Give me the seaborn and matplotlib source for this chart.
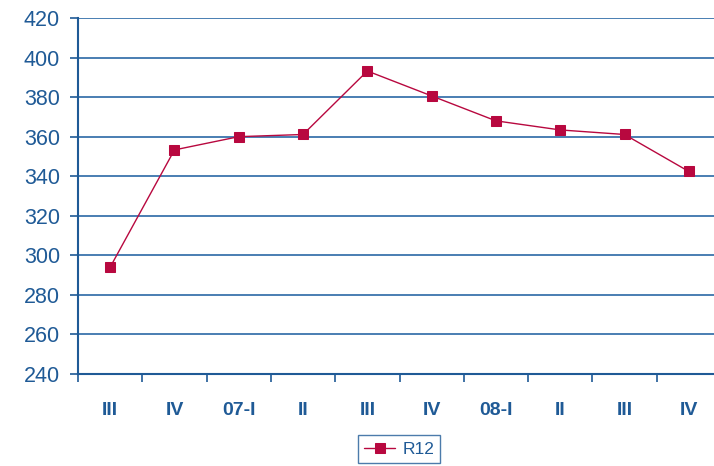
import matplotlib
matplotlib.use("Agg")
import matplotlib.pyplot as plt
import seaborn as sns
import pandas as pd
import numpy as np

categories = ["III", "IV", "07-I", "II", "III", "IV", "08-I", "II", "III", "IV"]
r12 = [294, 353.3, 360, 361.1, 393.2, 380.6, 368, 363.4, 361.1, 342.4]
yticks = [240, 260, 280, 300, 320, 340, 360, 380, 400, 420]

sns.set_theme(style="white")
plt.rcParams['font.family'] = ['Liberation Sans', 'DejaVu Sans']

blue = "#1F5A96"
red = "#B8083F"

df = pd.DataFrame({"pos": np.arange(len(categories)), "R12": r12})

fig = plt.figure(figsize=(7.14, 4.66), dpi=100)
ax = fig.add_axes([78/714, 1-374/466, 643/714, 356/466])
ax.set_ylim(240, 420)
ax.set_xlim(-0.5, len(categories) - 0.5)
for y in yticks[1:]:
    ax.axhline(y, color="#3A74AC", lw=1.3, zorder=1)

sns.lineplot(data=df, x="pos", y="R12", ax=ax, color=red, lw=1.0,
             marker="s", markersize=6.5, markeredgecolor=red, markerfacecolor=red,
             label="R12", zorder=3)

for s in ["top", "right"]:
    ax.spines[s].set_visible(False)
for s in ["left", "bottom"]:
    ax.spines[s].set_color(blue)
    ax.spines[s].set_linewidth(1.5)

ax.set_yticks(yticks)
ax.set_yticklabels([str(v) for v in yticks], fontsize=15.5, color=blue)
ax.tick_params(axis="y", length=6, width=1.2, color=blue, pad=7, direction="out", left=True)
ax.set_xticks(np.arange(len(categories)))
ax.set_xticklabels(categories, fontsize=14, fontweight="bold", color=blue)
ax.tick_params(axis="x", which="major", length=0, pad=20)
ax.set_xticks(np.arange(len(categories) + 1) - 0.5, minor=True)
ax.tick_params(axis="x", which="minor", length=6, width=1.2, color=blue, direction="out", bottom=True)
ax.set_xlabel("")
ax.set_ylabel("")

leg = ax.legend(loc="center", bbox_to_anchor=(399/714, 1-449/466), bbox_transform=fig.transFigure,
                frameon=True, fancybox=False, fontsize=12.5, handlelength=1.8, borderpad=0.35,
                handletextpad=0.4)
leg.get_frame().set_edgecolor(blue)
leg.get_frame().set_linewidth(1.0)
for t in leg.get_texts():
    t.set_color(blue)

fig.savefig("out.png", dpi=100)
